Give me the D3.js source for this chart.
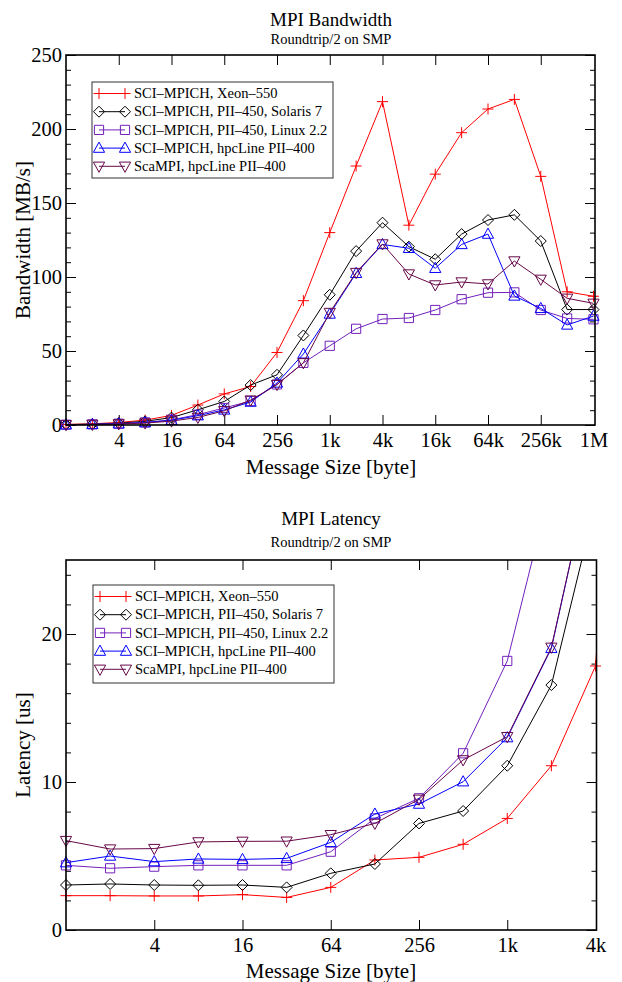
<!DOCTYPE html>
<html>
<head>
<meta charset="utf-8">
<script src="https://cdn.jsdelivr.net/npm/d3@7"></script>
<style>
  html, body { margin: 0; padding: 0; background: #ffffff; }
  svg { display: block; }
  text { font-family: "Liberation Serif", "Times New Roman", serif; fill: #000; }
</style>
</head>
<body>
<div id="chart"></div>
<script>
// ---------------- DATA ----------------
const seriesNames = [
  "SCI\u2013MPICH, Xeon\u2013550",
  "SCI\u2013MPICH, PII\u2013450, Solaris 7",
  "SCI\u2013MPICH, PII\u2013450, Linux 2.2",
  "SCI\u2013MPICH, hpcLine PII\u2013400",
  "ScaMPI, hpcLine PII\u2013400"
];

// Bandwidth chart: message sizes 1 B .. 1 MB
const bwSizes = [1,2,4,8,16,32,64,128,256,512,1024,2048,4096,8192,16384,32768,65536,131072,262144,524288,1048576];
const bwXeon    = [0.4, 0.8, 1.7, 3.3, 6.5, 13.5, 21, 26, 49, 84, 130, 175, 218.5, 135, 169.5, 197.5, 213.5, 220, 168, 90, 87];
const bwSolaris = [0.3, 0.6, 1.25, 2.5, 5, 10.3, 15.9, 27, 33.9, 60.5, 88, 117.5, 136.7, 120.5, 112, 129, 138.5, 142, 124.3, 78, 78];
const bwLinux   = [0.22, 0.46, 0.9, 1.75, 3.5, 7, 11.5, 16.2, 27.4, 42, 53.5, 65, 71.6, 72.3, 77.7, 85, 89.4, 89.6, 77.7, 72, 71.4];
const bwHpc     = [0.21, 0.4, 0.83, 1.6, 3.2, 6.3, 10.2, 15.5, 28.4, 48, 75, 102.5, 122, 119.4, 105.9, 122, 129, 87.2, 78.8, 67.6, 73.6];
const bwScaMPI  = [0.16, 0.35, 0.7, 1.3, 2.6, 5.1, 9.6, 16.8, 27.3, 42, 76, 103, 122.3, 102, 94.6, 96.6, 95.3, 110.8, 98.4, 85.6, 82.2];
const bwTickValues = [4,16,64,256,1024,4096,16384,65536,262144,1048576];
const bwTickLabels = ["4","16","64","256","1k","4k","16k","64k","256k","1M"];
const bwYTicks = [0,50,100,150,200,250];

// Latency chart: message sizes 1 B .. 8 kB
const latSizes = [1,2,4,8,16,32,64,128,256,512,1024,2048,4096,8192];
const latXeon    = [2.32, 2.32, 2.3, 2.3, 2.39, 2.2, 2.88, 4.73, 4.91, 5.79, 7.54, 11.1, 17.84, 58];
const latSolaris = [3.04, 3.11, 3.04, 3.02, 3.04, 2.88, 3.83, 4.46, 7.2, 8.04, 11.1, 16.55, 28.8, 65];
const latLinux   = [4.37, 4.17, 4.28, 4.37, 4.37, 4.37, 5.29, 7.54, 8.9, 11.94, 18.18, 30.2, 54.5, 108];
const latHpc     = [4.55, 5.0, 4.62, 4.8, 4.77, 4.84, 5.92, 7.84, 8.51, 10.02, 13.0, 19.03, 32.5, 65];
const latScaMPI  = [6.04, 5.47, 5.5, 5.95, 5.99, 6.0, 6.44, 7.2, 8.83, 11.49, 13.06, 19.1, 32.5, 76];
const latTickValues = [4,16,64,256,1024,4096];
const latTickLabels = ["4","16","64","256","1k","4k"];
const latYTicks = [0,10,20];

// ---------------- STYLE ----------------
const seriesColors = ["#ff0000", "#000000", "#7221bc", "#0000ff", "#670748"];
const seriesShapes = ["plus", "diamond", "square", "triUp", "triDown"];

const W = 622, H = 982;
const svg = d3.select("#chart").append("svg").attr("width", W).attr("height", H);

function markerPath(shape) {
  switch (shape) {
    case "plus":    return "M-5.5,0H5.5M0,-5.5V5.5";
    case "diamond": return "M0,-5.5L5.5,0L0,5.5L-5.5,0Z";
    case "square":  return "M-4.6,-4.6H4.6V4.6H-4.6Z";
    case "triUp":   return "M0,-6L5.6,4.2L-5.6,4.2Z";
    case "triDown": return "M0,6L5.6,-4.2L-5.6,-4.2Z";
  }
}

function drawChart(cfg) {
  const g = svg.append("g");
  const x = d3.scaleLog().base(2).domain(cfg.xDomain).range([cfg.left, cfg.xEnd]);
  const y = d3.scaleLinear().domain(cfg.yDomain).range([cfg.bottom, cfg.top]);

  // titles
  g.append("text").attr("x", cfg.cx).attr("y", cfg.titleY).attr("text-anchor", "middle")
    .style("font-size", "19px").text(cfg.title);
  g.append("text").attr("x", cfg.cx).attr("y", cfg.subY).attr("text-anchor", "middle")
    .style("font-size", "14.5px").text(cfg.subtitle);

  // clip
  const clipId = "clip" + cfg.id;
  g.append("clipPath").attr("id", clipId).append("rect")
    .attr("x", cfg.left).attr("y", cfg.top)
    .attr("width", cfg.right - cfg.left + 0.5).attr("height", cfg.bottom - cfg.top);

  // axes
  const fmt = d => cfg.tickLabels[cfg.tickValues.indexOf(d)];
  const axB = g.append("g").attr("transform", `translate(0,${cfg.bottom})`)
    .call(d3.axisBottom(x).tickValues(cfg.tickValues).tickFormat(fmt).tickSize(-10).tickPadding(7));
  const axT = g.append("g").attr("transform", `translate(0,${cfg.top})`)
    .call(d3.axisTop(x).tickValues(cfg.tickValues.filter(v => x(v) < cfg.right - 2)).tickFormat("").tickSize(-10));
  axB.selectAll(".tick line").filter(d => x(d) > cfg.right - 2).remove();
  const axL = g.append("g").attr("transform", `translate(${cfg.left},0)`)
    .call(d3.axisLeft(y).tickValues(cfg.yTicks).tickFormat(d3.format("d")).tickSize(-10).tickPadding(4));
  const axR = g.append("g").attr("transform", `translate(${cfg.right},0)`)
    .call(d3.axisRight(y).tickValues(cfg.yTicks).tickFormat("").tickSize(-10));
  const axLm = g.append("g").attr("transform", `translate(${cfg.left},0)`)
    .call(d3.axisLeft(y).tickValues(cfg.yMinor).tickFormat("").tickSize(-5));
  const axRm = g.append("g").attr("transform", `translate(${cfg.right},0)`)
    .call(d3.axisRight(y).tickValues(cfg.yMinor).tickFormat("").tickSize(-5));
  [axB, axT, axL, axR, axLm, axRm].forEach(a => {
    a.select(".domain").remove();
    a.selectAll(".tick line").attr("stroke", "#000").attr("stroke-width", 1);
    a.selectAll("text").style("font-family", "Liberation Serif").style("font-size", "20.5px").attr("fill", "#000");
  });
  axL.selectAll(".tick text").attr("dy", "0.33em");

  // axis titles
  g.append("text").attr("x", cfg.cx).attr("y", cfg.xLabelY).attr("text-anchor", "middle")
    .style("font-size", "21px").text("Message Size [byte]");
  g.append("text").attr("transform", `translate(30,${(cfg.top + cfg.bottom) / 2}) rotate(-90)`)
    .attr("text-anchor", "middle").style("font-size", "21px").text(cfg.yLabel);

  // series
  const line = d3.line().x(d => x(d[0])).y(d => y(d[1]));
  cfg.series.forEach((vals, i) => {
    const pts = cfg.sizes.map((s, k) => [s, vals[k]]);
    g.append("path").attr("d", line(pts)).attr("fill", "none")
      .attr("stroke", seriesColors[i]).attr("stroke-width", 1)
      .attr("clip-path", `url(#${clipId})`);
    g.selectAll(null).data(pts.filter(p => p[0] <= cfg.xDomain[1] && p[1] <= cfg.yDomain[1]))
      .enter().append("path")
      .attr("transform", d => `translate(${x(d[0])},${y(d[1])})`)
      .attr("d", markerPath(seriesShapes[i]))
      .attr("fill", "none").attr("stroke", seriesColors[i]).attr("stroke-width", 1);
  });

  // frame
  g.append("rect").attr("x", cfg.left).attr("y", cfg.top)
    .attr("width", cfg.right - cfg.left).attr("height", cfg.bottom - cfg.top)
    .attr("fill", "none").attr("stroke", "#000").attr("stroke-width", 1.6);

  // legend
  const lg = g.append("g").attr("transform", `translate(${cfg.legX},${cfg.legY})`);
  lg.append("rect").attr("x", 0).attr("y", 0).attr("width", 241).attr("height", cfg.legH)
    .attr("fill", "#fff").attr("stroke", "#333").attr("stroke-width", 1);
  seriesNames.forEach((name, i) => {
    const ry = 11.5 + i * 18.2;
    lg.append("line").attr("x1", 7).attr("x2", 33).attr("y1", ry).attr("y2", ry)
      .attr("stroke", seriesColors[i]).attr("stroke-width", 1);
    [7, 33].forEach(mx => lg.append("path").attr("transform", `translate(${mx},${ry})`)
      .attr("d", markerPath(seriesShapes[i])).attr("fill", "none")
      .attr("stroke", seriesColors[i]).attr("stroke-width", 1));
    lg.append("text").attr("x", 42).attr("y", ry).attr("dy", "0.33em")
      .style("font-size", "14.5px").text(name);
  });
}

drawChart({
  id: "bw", title: "MPI Bandwidth", subtitle: "Roundtrip/2 on SMP",
  titleY: 26, subY: 44, cx: 331,
  left: 66, right: 595, xEnd: 593.5, top: 55, bottom: 425,
  xDomain: [1, 1048576], yDomain: [0, 250],
  tickValues: bwTickValues, tickLabels: bwTickLabels,
  yTicks: bwYTicks, yMinor: d3.range(10, 250, 10).filter(v => v % 50 !== 0),
  xLabelY: 474, yLabel: "Bandwidth [MB/s]",
  sizes: bwSizes, series: [bwXeon, bwSolaris, bwLinux, bwHpc, bwScaMPI],
  legX: 92, legY: 82, legH: 96
});

drawChart({
  id: "lat", title: "MPI Latency", subtitle: "Roundtrip/2 on SMP",
  titleY: 525, subY: 547, cx: 331,
  left: 66, right: 596.5, xEnd: 595.5, top: 560, bottom: 930,
  xDomain: [1, 4096], yDomain: [0, 25],
  tickValues: latTickValues, tickLabels: latTickLabels,
  yTicks: latYTicks, yMinor: d3.range(2, 25, 2).filter(v => v % 10 !== 0),
  xLabelY: 978, yLabel: "Latency [us]",
  sizes: latSizes, series: [latXeon, latSolaris, latLinux, latHpc, latScaMPI],
  legX: 93, legY: 585, legH: 98
});
</script>
</body>
</html>
